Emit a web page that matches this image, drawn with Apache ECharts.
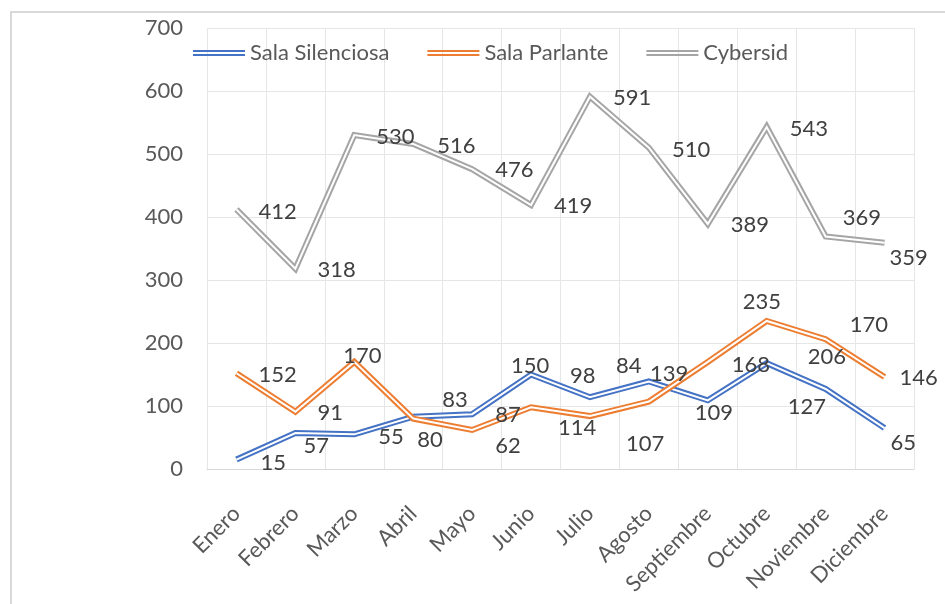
<!DOCTYPE html>
<html>
<head>
<meta charset="utf-8">
<script src="https://cdn.jsdelivr.net/npm/echarts@6/dist/echarts.min.js"></script>
<style>
  html, body { margin: 0; padding: 0; background: #fff; }
  #chart { width: 945px; height: 604px; }
</style>
</head>
<body>
<div id="chart"></div>
<script>
const months = ['Enero', 'Febrero', 'Marzo', 'Abril', 'Mayo', 'Junio', 'Julio',
    'Agosto', 'Septiembre', 'Octubre', 'Noviembre', 'Diciembre'];
const salaSilenciosa = [15, 57, 55, 83, 87, 150, 114, 139, 109, 168, 127, 65];
const salaParlante = [152, 91, 170, 80, 62, 98, 84, 107, 170, 235, 206, 146];
const cybersid = [412, 318, 530, 516, 476, 419, 591, 510, 389, 543, 369, 359];
const yTicks = [0, 100, 200, 300, 400, 500, 600, 700];

const FONT = 'Lato';
const TEXT_COLOR = '#595959';

// excel "double" compound line: thick coloured stroke with a thin white one on top
const DOUBLE_ICON = 'path://M0,0H52V2H0Z M0,4H52V6H0Z';

// data labels were dragged around by hand in the original, so nudge them (px)
const labelNudge = {
    'Sala Silenciosa': [[2, 3], [-14, 13], [2, 3], [7, -17], [1, 1], [-42, -9],
        [-54, 31], [-21, -8], [-35, 13], [-57, 2], [-60, 18], [-16, 15]],
    'Sala Parlante': [[0, 2], [0, 1], [-33, -6], [-18, 21], [1, 16], [17, -31],
        [4, -50], [-45, 42], [120, -37], [-46, -19], [-40, 18], [-7, 1]],
    'Cybersid': [[0, 2], [0, 1], [0, 2], [2, 2], [1, 1], [1, 1],
        [1, 1], [1, 2], [1, 1], [1, 2], [-5, -19], [-17, 15]]
};

function doubleLine(name, data, color) {
    const nudge = labelNudge[name];
    return [{
        name: name,
        type: 'line',
        data: data.map((v, i) => ({ value: v, label: { offset: nudge[i] } })),
        symbol: 'circle',
        symbolSize: 0,
        lineStyle: { color: color, width: 6, join: 'miter' },
        itemStyle: { color: color },
        label: {
            show: true,
            position: 'right',
            distance: 22,
            fontFamily: FONT,
            fontSize: 22,
            color: '#404040'
        },
        z: 3
    }, {
        name: name + '_inner',
        type: 'line',
        data: data,
        symbol: 'none',
        silent: true,
        lineStyle: { color: '#ffffff', width: 2, join: 'miter' },
        z: 3
    }];
}

const chart = echarts.init(document.getElementById('chart'));

chart.setOption({
    animation: false,
    backgroundColor: '#fff',
    graphic: [{
        type: 'rect',
        shape: { x: 11, y: 12, width: 960, height: 620 },
        style: { fill: 'none', stroke: '#d9d9d9', lineWidth: 2 },
        z: -10
    }],
    legend: {
        top: 37,
        left: 188,
        itemWidth: 52,
        itemHeight: 6,
        itemGap: 38,
        icon: DOUBLE_ICON,
        textStyle: { fontFamily: FONT, fontSize: 22, color: TEXT_COLOR },
        data: [
            { name: 'Sala Silenciosa', itemStyle: { color: '#4472c4' } },
            { name: 'Sala Parlante', itemStyle: { color: '#ed7d31' } },
            { name: 'Cybersid', itemStyle: { color: '#a5a5a5' } }
        ]
    },
    grid: {
        left: 207,
        right: 31,
        top: 28,
        bottom: 135
    },
    xAxis: {
        type: 'category',
        data: months,
        boundaryGap: true,
        axisLine: { lineStyle: { color: '#d9d9d9', width: 1 } },
        axisTick: { show: false },
        splitLine: { show: true, interval: 0, lineStyle: { color: '#e6e6e6' } },
        axisLabel: {
            interval: 0,
            rotate: 45,
            margin: 41,
            fontFamily: FONT,
            fontSize: 22,
            color: TEXT_COLOR
        }
    },
    yAxis: {
        type: 'value',
        min: yTicks[0],
        max: yTicks[yTicks.length - 1],
        interval: 100,
        axisLine: { show: false },
        axisTick: { show: false },
        splitLine: { lineStyle: { color: '#e6e6e6' } },
        axisLabel: {
            margin: 24,
            fontFamily: FONT,
            fontSize: 22,
            color: TEXT_COLOR
        }
    },
    series: [
        ...doubleLine('Sala Silenciosa', salaSilenciosa, '#4472c4'),
        ...doubleLine('Sala Parlante', salaParlante, '#ed7d31'),
        ...doubleLine('Cybersid', cybersid, '#a5a5a5')
    ]
});

window.addEventListener('resize', () => chart.resize());
</script>
</body>
</html>
